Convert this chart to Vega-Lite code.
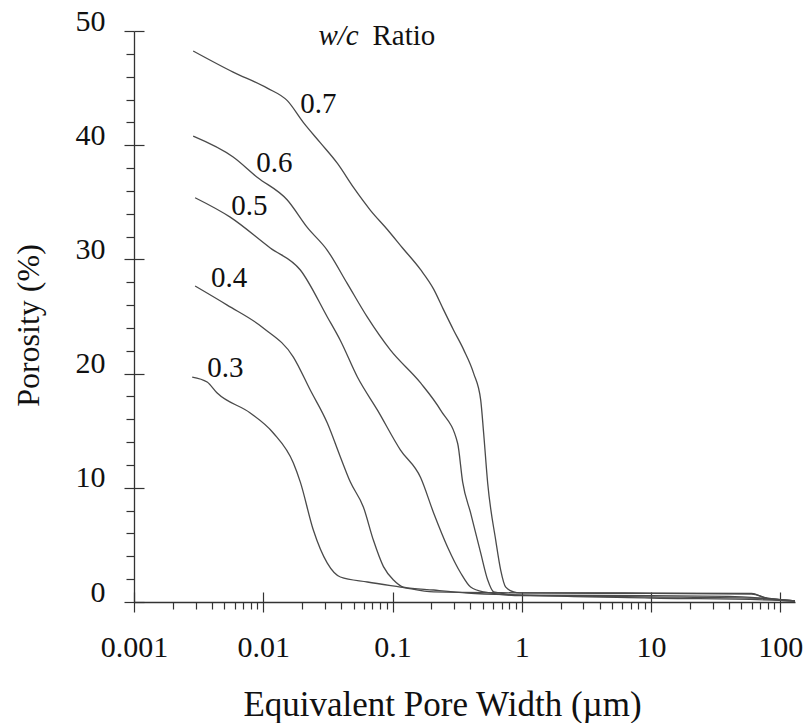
{
  "$schema": "https://vega.github.io/schema/vega-lite/v6.json",
  "width": 661,
  "height": 571,
  "autosize": "none",
  "padding": {"left": 134, "top": 31, "right": 12, "bottom": 121},
  "background": "white",
  "config": {"view": {"stroke": null}},
  "resolve": {"axis": {"x": "independent", "y": "independent"}},
  "layer": [
    {
      "data": {"values": [
        {"wc":"0.7","x":0.00287,"y":48.25},{"wc":"0.7","x":0.00585,"y":46.4},{"wc":"0.7","x":0.01074,"y":45.0},{"wc":"0.7","x":0.01535,"y":43.9},{"wc":"0.7","x":0.0204,"y":42.0},{"wc":"0.7","x":0.0277,"y":40.2},{"wc":"0.7","x":0.0375,"y":38.4},{"wc":"0.7","x":0.0499,"y":36.3},{"wc":"0.7","x":0.0675,"y":34.3},{"wc":"0.7","x":0.0915,"y":32.6},{"wc":"0.7","x":0.1196,"y":31.0},{"wc":"0.7","x":0.1649,"y":29.1},{"wc":"0.7","x":0.208,"y":27.4},{"wc":"0.7","x":0.248,"y":25.6},{"wc":"0.7","x":0.297,"y":23.8},{"wc":"0.7","x":0.355,"y":22.1},{"wc":"0.7","x":0.425,"y":20.0},{"wc":"0.7","x":0.481,"y":17.7},{"wc":"0.7","x":0.507,"y":14.8},{"wc":"0.7","x":0.545,"y":10.4},{"wc":"0.7","x":0.629,"y":5.4},{"wc":"0.7","x":0.687,"y":2.8},{"wc":"0.7","x":0.752,"y":1.3},{"wc":"0.7","x":0.867,"y":0.88},{"wc":"0.7","x":0.964,"y":0.8},{"wc":"0.7","x":2,"y":0.8},{"wc":"0.7","x":10,"y":0.78},{"wc":"0.7","x":60,"y":0.75},{"wc":"0.7","x":75,"y":0.4},{"wc":"0.7","x":100,"y":0.2},{"wc":"0.7","x":130,"y":0.1},
        {"wc":"0.6","x":0.00287,"y":40.8},{"wc":"0.6","x":0.00585,"y":38.97},{"wc":"0.6","x":0.00897,"y":37.2},{"wc":"0.6","x":0.01535,"y":35.2},{"wc":"0.6","x":0.0219,"y":32.8},{"wc":"0.6","x":0.0313,"y":30.8},{"wc":"0.6","x":0.0446,"y":27.9},{"wc":"0.6","x":0.0637,"y":24.96},{"wc":"0.6","x":0.0961,"y":22.07},{"wc":"0.6","x":0.1649,"y":19.18},{"wc":"0.6","x":0.2355,"y":16.8},{"wc":"0.6","x":0.319,"y":13.9},{"wc":"0.6","x":0.349,"y":10.5},{"wc":"0.6","x":0.402,"y":7.8},{"wc":"0.6","x":0.481,"y":4.3},{"wc":"0.6","x":0.545,"y":1.93},{"wc":"0.6","x":0.607,"y":0.88},{"wc":"0.6","x":1,"y":0.6},{"wc":"0.6","x":10,"y":0.55},{"wc":"0.6","x":40,"y":0.5},{"wc":"0.6","x":80,"y":0.3},{"wc":"0.6","x":130,"y":0.1},
        {"wc":"0.5","x":0.00297,"y":35.4},{"wc":"0.5","x":0.00555,"y":33.7},{"wc":"0.5","x":0.01133,"y":31.0},{"wc":"0.5","x":0.01936,"y":29.07},{"wc":"0.5","x":0.0313,"y":24.96},{"wc":"0.5","x":0.0395,"y":22.9},{"wc":"0.5","x":0.0535,"y":19.7},{"wc":"0.5","x":0.0765,"y":16.8},{"wc":"0.5","x":0.1153,"y":13.3},{"wc":"0.5","x":0.1649,"y":10.9},{"wc":"0.5","x":0.208,"y":7.8},{"wc":"0.5","x":0.267,"y":4.8},{"wc":"0.5","x":0.337,"y":2.54},{"wc":"0.5","x":0.402,"y":1.31},{"wc":"0.5","x":0.507,"y":0.88},{"wc":"0.5","x":1,"y":0.55},{"wc":"0.5","x":10,"y":0.45},{"wc":"0.5","x":80,"y":0.3},{"wc":"0.5","x":130,"y":0.1},
        {"wc":"0.4","x":0.00297,"y":27.67},{"wc":"0.4","x":0.00526,"y":26.0},{"wc":"0.4","x":0.01,"y":24.0},{"wc":"0.4","x":0.0171,"y":21.45},{"wc":"0.4","x":0.0231,"y":18.56},{"wc":"0.4","x":0.0313,"y":15.67},{"wc":"0.4","x":0.0395,"y":12.7},{"wc":"0.4","x":0.0472,"y":10.5},{"wc":"0.4","x":0.0596,"y":8.3},{"wc":"0.4","x":0.0712,"y":5.4},{"wc":"0.4","x":0.0851,"y":3.1},{"wc":"0.4","x":0.1018,"y":1.93},{"wc":"0.4","x":0.1217,"y":1.31},{"wc":"0.4","x":0.208,"y":1.05},{"wc":"0.4","x":0.381,"y":0.79},{"wc":"0.4","x":1,"y":0.6},{"wc":"0.4","x":10,"y":0.35},{"wc":"0.4","x":100,"y":0.15},{"wc":"0.4","x":130,"y":0.05},
        {"wc":"0.3","x":0.00282,"y":19.7},{"wc":"0.3","x":0.00368,"y":19.26},{"wc":"0.3","x":0.0044,"y":18.3},{"wc":"0.3","x":0.00793,"y":16.55},{"wc":"0.3","x":0.01196,"y":14.8},{"wc":"0.3","x":0.0171,"y":12.17},{"wc":"0.3","x":0.01936,"y":10.5},{"wc":"0.3","x":0.0244,"y":6.3},{"wc":"0.3","x":0.0313,"y":3.4},{"wc":"0.3","x":0.0395,"y":2.19},{"wc":"0.3","x":0.064,"y":1.75},{"wc":"0.3","x":0.1153,"y":1.31},{"wc":"0.3","x":0.208,"y":0.88},{"wc":"0.3","x":1,"y":0.8},{"wc":"0.3","x":10,"y":0.75},{"wc":"0.3","x":60,"y":0.7},{"wc":"0.3","x":80,"y":0.3},{"wc":"0.3","x":100,"y":0.15},{"wc":"0.3","x":130,"y":0.1}
      ]},
      "mark": {"type": "line", "color": "#4a4a4a", "strokeWidth": 1.3, "clip": true, "interpolate": "monotone"},
      "encoding": {
        "x": {"field": "x", "type": "quantitative",
          "scale": {"type": "log", "domain": [0.001, 130], "nice": false},
          "axis": {"orient": "bottom", "values": [0.001, 0.01, 0.1, 1, 10, 100], "format": "~g", "grid": false,
            "tickSize": 10, "tickColor": "#333", "tickWidth": 1.2, "domainColor": "#333", "domainWidth": 1.3,
            "labelFont": "Liberation Serif", "labelFontSize": 30, "labelColor": "#111", "labelPadding": 20,
            "labelFlush": false, "labelOverlap": false,
            "title": "Equivalent Pore Width (µm)", "titleFont": "Liberation Serif", "titleFontSize": 35,
            "titleFontWeight": "normal", "titleColor": "#111", "titleX": 308, "titleY": 113,
            "titleAlign": "center", "titleBaseline": "alphabetic"}},
        "y": {"field": "y", "type": "quantitative",
          "scale": {"domain": [0, 50], "nice": false, "zero": true},
          "axis": {"orient": "left", "values": [0, 10, 20, 30, 40, 50], "grid": false,
            "tickSize": 10, "tickColor": "#333", "tickWidth": 1.2, "domainColor": "#333", "domainWidth": 1.3,
            "labelFont": "Liberation Serif", "labelFontSize": 30, "labelColor": "#111", "labelPadding": 19,
            "labelOffset": -10, "labelFlush": false, "labelOverlap": false,
            "title": "Porosity (%)", "titleFont": "Liberation Serif", "titleFontSize": 32,
            "titleFontWeight": "normal", "titleColor": "#111", "titleX": -96, "titleY": 294,
            "titleAlign": "center", "titleBaseline": "alphabetic", "titleAngle": 270}},
        "detail": {"field": "wc", "type": "nominal"}
      }
    },
    {
      "data": {"values": [
        {"label": "0.7", "x": 0.01936, "y": 42.8},
        {"label": "0.6", "x": 0.00883, "y": 37.65},
        {"label": "0.5", "x": 0.00565, "y": 33.9},
        {"label": "0.4", "x": 0.00395, "y": 27.6},
        {"label": "0.3", "x": 0.00368, "y": 19.7}
      ]},
      "mark": {"type": "text", "font": "Liberation Serif", "fontSize": 29, "align": "left", "baseline": "alphabetic", "color": "#111"},
      "encoding": {
        "x": {"field": "x", "type": "quantitative",
          "scale": {"type": "log", "domain": [0.001, 130], "nice": false},
          "axis": {"orient": "bottom", "offset": -10, "values": [0.001, 0.01, 0.1, 1, 10, 100], "grid": false, "domain": false, "labels": false, "title": null,
            "tickSize": 10, "tickColor": "#333", "tickWidth": 1.2}},
        "y": {"field": "y", "type": "quantitative",
          "scale": {"domain": [0, 50], "nice": false, "zero": true},
          "axis": {"orient": "left", "offset": -10, "values": [0, 10, 20, 30, 40, 50], "grid": false, "domain": false, "labels": false, "title": null,
            "tickSize": 10, "tickColor": "#333", "tickWidth": 1.2}},
        "text": {"field": "label"}
      }
    },
    {
      "data": {"values": [{"t": "w/c", "x": 0.0267, "y": 48.77}]},
      "mark": {"type": "text", "font": "Liberation Serif", "fontSize": 29, "fontStyle": "italic", "align": "left", "baseline": "alphabetic", "color": "#111"},
      "encoding": {
        "x": {"field": "x", "type": "quantitative",
          "scale": {"type": "log", "domain": [0.001, 130], "nice": false},
          "axis": {"orient": "bottom", "values": [0.002,0.003,0.004,0.005,0.006,0.007,0.008,0.009,0.02,0.03,0.04,0.05,0.06,0.07,0.08,0.09,0.2,0.3,0.4,0.5,0.6,0.7,0.8,0.9,2,3,4,5,6,7,8,9,20,30,40,50,60,70,80,90],
            "grid": false, "domain": false, "labels": false, "title": null,
            "tickSize": 7, "tickColor": "#333", "tickWidth": 1.2}},
        "y": {"field": "y", "type": "quantitative",
          "scale": {"domain": [0, 50], "nice": false, "zero": true},
          "axis": {"orient": "left", "values": [2,4,6,8,12,14,16,18,22,24,26,28,32,34,36,38,42,44,46,48],
            "grid": false, "domain": false, "labels": false, "title": null,
            "tickSize": 8, "tickColor": "#333", "tickWidth": 1.2}},
        "text": {"field": "t"}
      }
    },
    {
      "data": {"values": [{"t": "Ratio", "x": 0.070, "y": 48.77}]},
      "mark": {"type": "text", "font": "Liberation Serif", "fontSize": 29, "align": "left", "baseline": "alphabetic", "color": "#111"},
      "encoding": {
        "x": {"field": "x", "type": "quantitative", "scale": {"type": "log", "domain": [0.001, 130], "nice": false}, "axis": null},
        "y": {"field": "y", "type": "quantitative", "scale": {"domain": [0, 50], "nice": false, "zero": true}, "axis": null},
        "text": {"field": "t"}
      }
    }
  ]
}
